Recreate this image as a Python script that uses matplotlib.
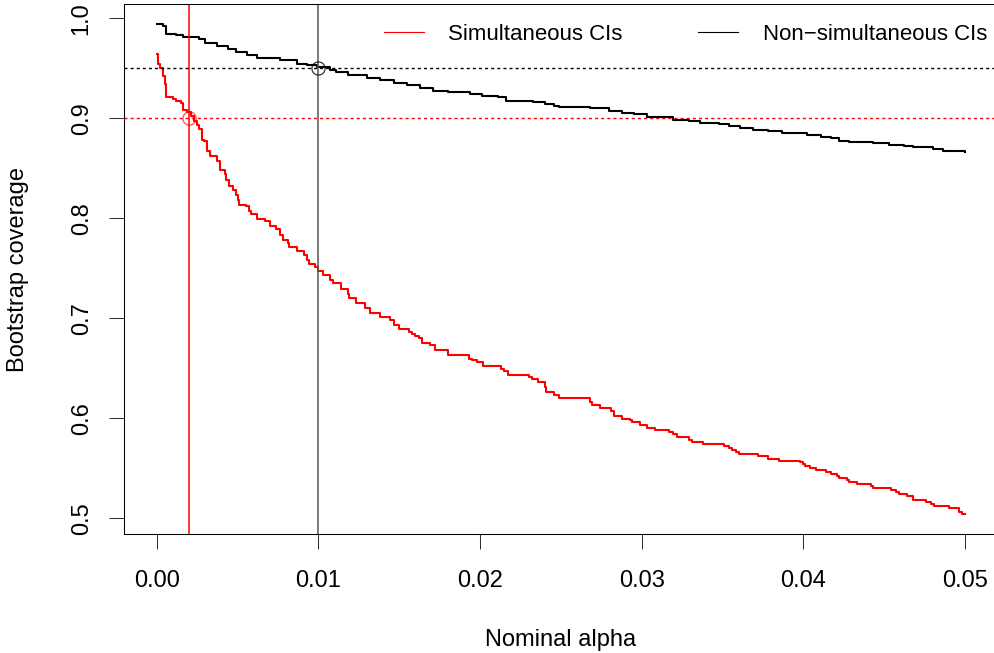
import matplotlib
matplotlib.use("Agg")
import matplotlib.pyplot as plt

plt.rcParams['font.family'] = ['Liberation Sans', 'DejaVu Sans']

# non-simultaneous CIs (black), step function: level starts at x
black_x = [0.0000, 0.0004, 0.0006, 0.0012, 0.0016, 0.0026, 0.0030, 0.0037, 0.0044, 0.0049,
           0.0056, 0.0062, 0.0076, 0.0087, 0.0093, 0.0099, 0.0107, 0.0111, 0.0118, 0.0130,
           0.0138, 0.0147, 0.0155, 0.0163, 0.0171, 0.0180, 0.0194, 0.0201, 0.0211, 0.0216,
           0.0233, 0.0240, 0.0246, 0.0249, 0.0268, 0.0280, 0.0288, 0.0295, 0.0303, 0.0319,
           0.0329, 0.0336, 0.0348, 0.0354, 0.0361, 0.0369, 0.0378, 0.0387, 0.0402, 0.0411,
           0.0417, 0.0422, 0.0428, 0.0443, 0.0453, 0.0462, 0.0468, 0.0480, 0.0486, 0.0500]
black_y = [0.994, 0.992, 0.984, 0.983, 0.981, 0.979, 0.975, 0.972, 0.969, 0.966,
           0.963, 0.960, 0.958, 0.954, 0.953, 0.951, 0.948, 0.946, 0.943, 0.940,
           0.938, 0.935, 0.933, 0.930, 0.927, 0.926, 0.924, 0.922, 0.921, 0.917,
           0.916, 0.914, 0.912, 0.911, 0.910, 0.907, 0.905, 0.904, 0.901, 0.898,
           0.897, 0.895, 0.894, 0.892, 0.890, 0.888, 0.887, 0.885, 0.883, 0.881,
           0.880, 0.877, 0.876, 0.875, 0.873, 0.872, 0.871, 0.869, 0.867, 0.866]

# simultaneous CIs (red)
red_x = [0.0000, 0.0001, 0.0002, 0.0004, 0.0005, 0.0006, 0.0010, 0.0012, 0.0015, 0.0016,
         0.0019, 0.0021, 0.0023, 0.0025, 0.0026, 0.0028, 0.0029, 0.0031, 0.0033, 0.0037,
         0.0039, 0.0042, 0.0043, 0.0045, 0.0047, 0.0049, 0.0050, 0.0051, 0.0055, 0.0057,
         0.0058, 0.0062, 0.0067, 0.0070, 0.0074, 0.0076, 0.0078, 0.0081, 0.0082, 0.0087,
         0.0091, 0.0093, 0.0094, 0.0098, 0.0100, 0.0103, 0.0107, 0.0109, 0.0114, 0.0118,
         0.0119, 0.0123, 0.0129, 0.0132, 0.0138, 0.0144, 0.0147, 0.0150, 0.0156, 0.0158,
         0.0160, 0.0162, 0.0164, 0.0169, 0.0172, 0.0180, 0.0193, 0.0195, 0.0198, 0.0202,
         0.0213, 0.0215, 0.0217, 0.0230, 0.0232, 0.0236, 0.0240, 0.0241, 0.0246, 0.0249,
         0.0268, 0.0269, 0.0274, 0.0281, 0.0283, 0.0288, 0.0293, 0.0294, 0.0299, 0.0303,
         0.0308, 0.0317, 0.0319, 0.0322, 0.0329, 0.0331, 0.0338, 0.0351, 0.0354, 0.0356,
         0.0358, 0.0360, 0.0372, 0.0378, 0.0385, 0.0398, 0.0400, 0.0401, 0.0404, 0.0408,
         0.0414, 0.0417, 0.0421, 0.0422, 0.0427, 0.0428, 0.0433, 0.0442, 0.0443, 0.0454,
         0.0457, 0.0459, 0.0464, 0.0468, 0.0476, 0.0479, 0.0481, 0.0490, 0.0496, 0.0498,
         0.0500]
red_y = [0.964, 0.954, 0.950, 0.942, 0.934, 0.921, 0.919, 0.917, 0.915, 0.908,
         0.906, 0.902, 0.897, 0.893, 0.889, 0.878, 0.877, 0.867, 0.862, 0.857,
         0.848, 0.844, 0.838, 0.832, 0.828, 0.823, 0.818, 0.813, 0.812, 0.807,
         0.804, 0.799, 0.797, 0.792, 0.789, 0.783, 0.778, 0.775, 0.771, 0.767,
         0.763, 0.758, 0.754, 0.751, 0.747, 0.743, 0.738, 0.735, 0.729, 0.724,
         0.720, 0.715, 0.710, 0.705, 0.701, 0.698, 0.693, 0.689, 0.686, 0.684,
         0.682, 0.680, 0.675, 0.673, 0.668, 0.663, 0.659, 0.658, 0.656, 0.652,
         0.649, 0.647, 0.643, 0.641, 0.639, 0.636, 0.631, 0.626, 0.623, 0.620,
         0.616, 0.613, 0.610, 0.607, 0.602, 0.599, 0.598, 0.596, 0.593, 0.590,
         0.588, 0.586, 0.584, 0.581, 0.578, 0.576, 0.574, 0.572, 0.570, 0.568,
         0.566, 0.564, 0.562, 0.559, 0.557, 0.556, 0.554, 0.552, 0.550, 0.548,
         0.546, 0.544, 0.542, 0.540, 0.538, 0.536, 0.534, 0.532, 0.530, 0.528,
         0.526, 0.524, 0.522, 0.518, 0.516, 0.514, 0.512, 0.510, 0.506, 0.504,
         0.504]

assert len(black_x) == len(black_y) and len(red_x) == len(red_y)

# reference levels
alpha_sim, target_sim = 0.002, 0.90
alpha_non, target_non = 0.01, 0.95

x_ticks = [0.00, 0.01, 0.02, 0.03, 0.04, 0.05]
x_ticklabels = ["0.00", "0.01", "0.02", "0.03", "0.04", "0.05"]
y_ticks = [0.5, 0.6, 0.7, 0.8, 0.9, 1.0]
y_ticklabels = ["0.5", "0.6", "0.7", "0.8", "0.9", "1.0"]

W, H = 995, 653
fig = plt.figure(figsize=(W / 100, H / 100), dpi=100)
ax = fig.add_axes([124.4 / W, (H - 534) / H, 873.1 / W, 530 / H])

ax.plot(red_x, red_y, drawstyle='steps-post', color='red', lw=1.5, label='Simultaneous CIs')
ax.plot(black_x, black_y, drawstyle='steps-post', color='black', lw=1.5,
        label='Non\u2212simultaneous CIs')

ax.axvline(alpha_sim, color='red', lw=1.1)
ax.axvline(alpha_non, color='#555555', lw=1.1)
ax.axhline(target_sim, color='red', lw=1.0, ls=(0, (2.2, 2.2)))
ax.axhline(target_non, color='black', lw=1.0, ls=(0, (2.2, 2.2)))
ax.plot([alpha_sim], [target_sim], 'o', mfc='none', mec='red', ms=9.5, mew=0.9, alpha=0.7)
ax.plot([alpha_non], [target_non], 'o', mfc='none', mec='black', ms=9.5, mew=0.9, alpha=0.8)

ax.set_xlim(-0.002, 0.052)
ax.set_ylim(0.4843, 1.0143)
ax.set_xticks(x_ticks)
ax.set_xticklabels(x_ticklabels)
ax.set_yticks(y_ticks)
ax.set_yticklabels(y_ticklabels, rotation=90, va='center')
ax.tick_params(length=10.8, width=0.75, labelsize=17, color='#333333')
ax.tick_params(axis='x', pad=15)
ax.tick_params(axis='y', pad=12)
for s in ax.spines.values():
    s.set_linewidth(0.75)

ax.set_xlabel('Nominal alpha', fontsize=17, labelpad=27)
ax.set_ylabel('Bootstrap coverage', fontsize=17, labelpad=30)

leg = ax.legend(loc='upper right', bbox_to_anchor=(987 / W, 1 - 24 / H),
                bbox_transform=fig.transFigure, ncol=2, frameon=False, fontsize=16,
                handlelength=1.8, handletextpad=1.1, columnspacing=3.4,
                borderpad=0, borderaxespad=0)
for h in leg.get_lines():
    h.set_linewidth(0.8)

fig.savefig('out.png', dpi=100)
